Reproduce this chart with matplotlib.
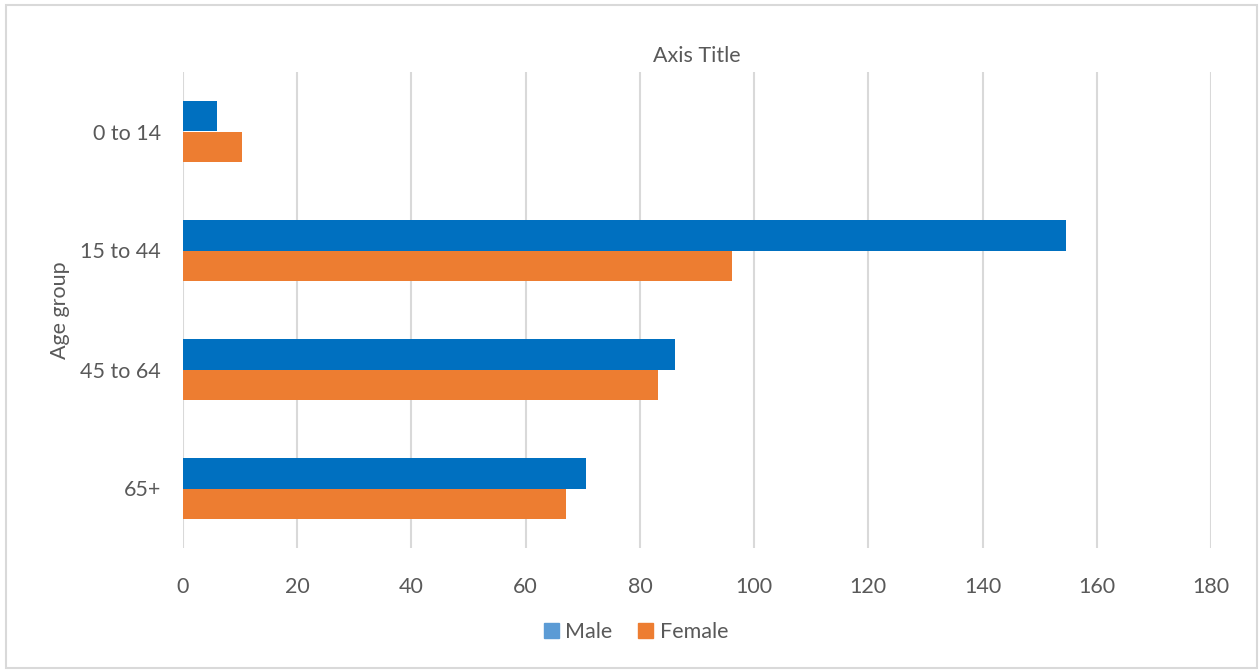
import numpy as np
import matplotlib.pyplot as plt
from matplotlib.patches import Patch, Rectangle

plt.rcParams['font.family'] = ['Lato', 'DejaVu Sans']

# data
groups = ["0 to 14", "15 to 44", "45 to 64", "65+"]
male = [6.0, 154.6, 86.2, 70.5]
female = [10.4, 96.1, 83.1, 67.0]
series_names = ["Male", "Female"]
xticks = [0, 20, 40, 60, 80, 100, 120, 140, 160, 180]

text_col = '#595959'
grid_col = '#d9d9d9'
blue = '#0070C0'
orange = '#ED7D31'
fs = 15.5

fig = plt.figure(figsize=(12.59, 6.7), dpi=100)
ax = fig.add_axes([183 / 1259, 1 - 548 / 670, (1211 - 183) / 1259, (548 - 72) / 670])

y = np.arange(len(groups))
h = 0.26
ax.barh(y - h / 2, male, height=h, color=blue, zorder=3)
ax.barh(y + h / 2, female, height=h, color=orange, zorder=3)

ax.set_ylim(len(groups) - 0.5, -0.5)
ax.set_xlim(0, 180)
ax.set_xticks(xticks)
ax.set_yticks(y)
ax.set_yticklabels(groups)
ax.tick_params(axis='both', length=0, labelsize=fs, colors=text_col)
ax.tick_params(axis='x', pad=21)
ax.tick_params(axis='y', pad=16)
ax.grid(axis='x', color=grid_col, linewidth=1.5, zorder=0)
for s in ax.spines.values():
    s.set_visible(False)

ax.set_title("Axis Title", fontsize=fs, color=text_col, pad=7)
ax.set_ylabel("Age group", fontsize=fs, color=text_col, labelpad=7)

handles = [Patch(color='#5B9BD5', label=series_names[0]),
           Patch(color=orange, label=series_names[1])]
leg = fig.legend(handles=handles, loc='center', bbox_to_anchor=(636 / 1259, 1 - 632 / 670),
                 ncol=2, frameon=False, fontsize=fs, handlelength=0.7, handleheight=0.7,
                 handletextpad=0.3, columnspacing=1.2)
for t in leg.get_texts():
    t.set_color(text_col)

# outer chart border
fig.patches.append(Rectangle((6 / 1259, 2 / 670), 1 - 8 / 1259, 1 - 7 / 670,
                             transform=fig.transFigure, fill=False,
                             edgecolor=grid_col, linewidth=1.5))

fig.savefig("out.png", dpi=100)
